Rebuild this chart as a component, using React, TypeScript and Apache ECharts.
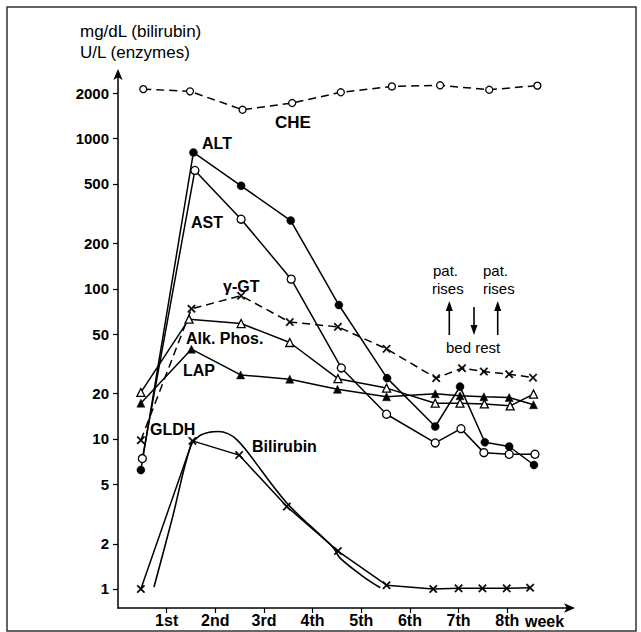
import React, { useEffect, useRef } from "react";
import * as echarts from "echarts";

const FONT = "'Liberation Sans', Arial, Helvetica, sans-serif";

// x axis: weeks, y axis: log scale
const weekLabels = ["1st", "2nd", "3rd", "4th", "5th", "6th", "7th", "8th"];
const weekTicks = [1, 2, 3, 4, 5, 6, 7, 8];
const yTicks = [1, 2, 5, 10, 20, 50, 100, 200, 500, 1000, 2000];

// CHE (dashed, open circles)
const cheWeeks = [0.52, 1.48, 2.56, 3.58, 4.58, 5.63, 6.62, 7.63, 8.62];
const cheValues = [2140, 2070, 1560, 1730, 2040, 2230, 2270, 2120, 2260];

// ALT (filled circles)
const altWeeks = [0.47, 1.55, 2.53, 3.55, 4.54, 5.53, 6.52, 7.03, 7.54, 8.04, 8.55];
const altValues = [6.2, 810, 486, 285, 78, 25.4, 12.1, 22.3, 9.5, 8.9, 6.7];

// AST (open circles)
const astWeeks = [0.5, 1.58, 2.53, 3.56, 4.59, 5.52, 6.52, 7.05, 7.52, 8.04, 8.57];
const astValues = [7.4, 615, 291, 116, 29.7, 14.6, 9.4, 11.7, 8.1, 7.9, 7.9];

// gamma-GT (dashed, crosses)
const ggtWeeks = [0.47, 1.51, 2.53, 3.53, 4.52, 5.52, 6.54, 7.07, 7.52, 8.04, 8.53];
const ggtValues = [9.8, 73.6, 90, 60, 55.8, 39.8, 25.4, 29.6, 28.1, 27, 25.6];

// Alk. Phos. (open triangles)
const apWeeks = [0.47, 1.46, 2.53, 3.53, 4.52, 5.52, 6.52, 7.03, 7.53, 8.06, 8.54];
const apValues = [20.4, 62.8, 58.7, 43.9, 25.2, 21.8, 17.3, 17.3, 17.1, 16.6, 19.9];

// LAP (filled triangles)
const lapWeeks = [0.47, 1.51, 2.52, 3.53, 4.51, 5.52, 6.52, 7.03, 7.52, 8.04, 8.54];
const lapValues = [17.3, 39.6, 26.7, 25, 21.4, 19.1, 20, 19.4, 19.1, 18.9, 16.9];

// Bilirubin (crosses)
const biliWeeks = [0.47, 1.53, 2.49, 3.47, 4.52, 5.52, 6.48, 7.0, 7.49, 7.99, 8.47];
const biliValues = [1.0, 9.7, 7.8, 3.54, 1.79, 1.06, 1.0, 1.01, 1.01, 1.01, 1.02];

// Bilirubin smooth curve
const biliCurveWeeks = [0.74, 1.12, 1.49, 1.68, 1.89, 2.06, 2.27, 2.44, 2.64, 3.47, 4.43, 4.56, 5.04, 5.39];
const biliCurveValues = [1.03, 3.0, 8.9, 10.5, 11.1, 11.2, 10.8, 9.9, 8.36, 3.74, 1.88, 1.61, 1.21, 1.02];

const crossPath =
  "path://M0,1.2L1.2,0L5,3.8L8.8,0L10,1.2L6.2,5L10,8.8L8.8,10L5,6.2L1.2,10L0,8.8L3.8,5Z";

const pairs = (xs: number[], ys: number[]) => xs.map((x, i) => [x, ys[i]]);

const mk = (
  name: string,
  xs: number[],
  ys: number[],
  symbol: string,
  filled: boolean,
  dashed: boolean,
  size = 8
) => ({
  type: "line",
  name,
  data: pairs(xs, ys),
  symbol,
  symbolSize: size,
  showSymbol: true,
  lineStyle: { color: "#000", width: 1.5, type: dashed ? [8, 5] : "solid" },
  itemStyle: {
    color: filled ? "#000" : "#fff",
    borderColor: "#000",
    borderWidth: filled ? 0.5 : 1.3,
  },
  emphasis: { disabled: true },
  z: 3,
});

const txt = (text: string, x: number, y: number, size: number, bold = false) => ({
  type: "text",
  x,
  y,
  style: {
    text,
    fill: "#000",
    font: `${bold ? "bold " : ""}${size}px ${FONT}`,
    textAlign: "left",
    textVerticalAlign: "middle",
    align: "left",
    verticalAlign: "middle",
  },
});

const arrow = (x: number, y1: number, y2: number) => {
  const up = y2 < y1;
  const head = up ? y2 - 7 : y2 + 7;
  return [
    { type: "line", shape: { x1: x, y1, x2: x, y2 }, style: { stroke: "#000", lineWidth: 1.6 } },
    {
      type: "polygon",
      shape: { points: [[x, head], [x - 3.5, y2 + (up ? 3 : -3)], [x + 3.5, y2 + (up ? 3 : -3)]] },
      style: { fill: "#000" },
    },
  ];
};

export default function App() {
  const ref = useRef<HTMLDivElement>(null);
  useEffect(() => {
    const chart = echarts.init(ref.current!, null, { renderer: "svg" });
    const option: any = {
      animation: false,
      backgroundColor: "#fff",
      grid: { left: 118, right: 71, top: 74, bottom: 24 },
      xAxis: {
        type: "value",
        min: 0,
        max: 9.29,
        splitLine: { show: false },
        axisLine: {
          lineStyle: { color: "#000", width: 1.5 },
          symbol: ["none", "arrow"],
          symbolSize: [7, 11],
          symbolOffset: [0, 5],
        },
        axisTick: { customValues: weekTicks, length: 5, lineStyle: { color: "#000", width: 1.2 } },
        axisLabel: {
          customValues: weekTicks,
          formatter: (v: number) => weekLabels[Math.round(v) - 1] || "",
          color: "#000",
          fontFamily: FONT,
          fontSize: 16,
          fontWeight: "bold",
          margin: 4,
        },
      },
      yAxis: {
        type: "log",
        logBase: 10,
        min: 0.747,
        max: 2700,
        splitLine: { show: false },
        axisLine: {
          show: true,
          lineStyle: { color: "#000", width: 1.5 },
          symbol: ["none", "arrow"],
          symbolSize: [7, 11],
          symbolOffset: [0, 5],
        },
        axisTick: { show: true, customValues: yTicks, length: 5, lineStyle: { color: "#000", width: 1.2 } },
        axisLabel: {
          customValues: yTicks,
          formatter: (v: number) => String(Math.round(v)),
          color: "#000",
          fontFamily: FONT,
          fontSize: 15,
          fontWeight: "bold",
          margin: 9,
        },
      },
      series: [
        mk("CHE", cheWeeks, cheValues, "circle", false, true, 7),
        mk("ALT", altWeeks, altValues, "circle", true, false, 8),
        mk("AST", astWeeks, astValues, "circle", false, false, 8),
        mk("γ-GT", ggtWeeks, ggtValues, crossPath, true, true, 8),
        mk("Alk. Phos.", apWeeks, apValues, "triangle", false, false, 8),
        mk("LAP", lapWeeks, lapValues, "triangle", true, false, 8),
        mk("Bilirubin", biliWeeks, biliValues, crossPath, true, false, 8),
        {
          type: "line",
          name: "Bilirubin curve",
          data: pairs(biliCurveWeeks, biliCurveValues),
          smooth: 0.35,
          showSymbol: false,
          symbol: "none",
          lineStyle: { color: "#000", width: 1.6 },
          emphasis: { disabled: true },
          z: 2,
        },
      ],
      graphic: [
        {
          type: "rect",
          shape: { x: 7, y: 7, width: 629, height: 624 },
          style: { fill: "none", stroke: "#333", lineWidth: 1.5 },
          silent: true,
        },
        txt("mg/dL (bilirubin)", 80, 31, 17),
        txt("U/L (enzymes)", 80, 52, 17),
        txt("CHE", 275, 122, 17, true),
        txt("ALT", 202, 143, 16, true),
        txt("AST", 191, 222, 16, true),
        txt("γ-GT", 223, 286, 16, true),
        txt("Alk. Phos.", 186, 338, 16, true),
        txt("LAP", 183, 370, 16, true),
        txt("GLDH", 150, 429, 16, true),
        txt("Bilirubin", 252, 446, 16, true),
        txt("week", 525, 621, 16, true),
        txt("pat.", 433, 270, 15),
        txt("rises", 432, 288, 15),
        txt("pat.", 483, 270, 15),
        txt("rises", 483, 288, 15),
        txt("bed rest", 446, 347, 15),
        ...arrow(449.3, 335, 308),
        ...arrow(474, 307, 328),
        ...arrow(497.7, 335, 308),
      ],
    };
    chart.setOption(option);
    return () => chart.dispose();
  }, []);
  return (
    <div
      ref={ref}
      style={{ position: "absolute", left: 0, top: 0, width: 641, height: 632 }}
    />
  );
}
